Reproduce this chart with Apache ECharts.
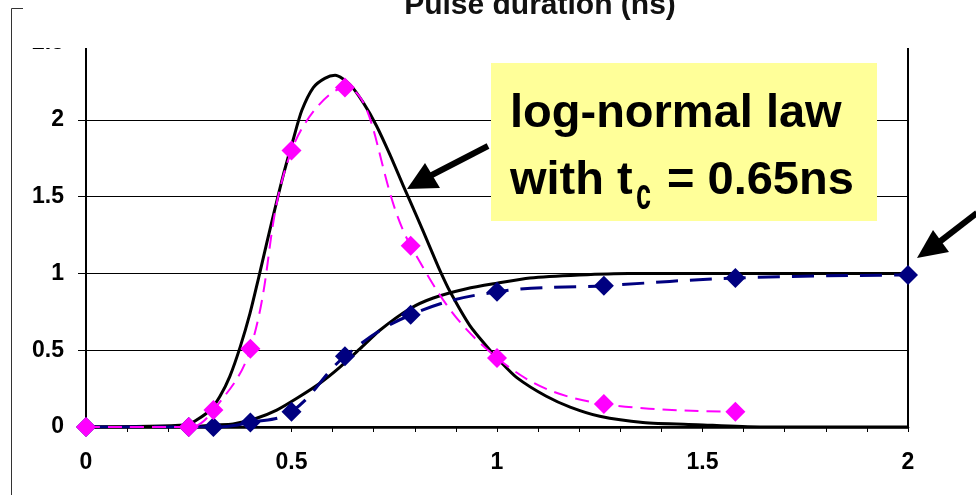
<!DOCTYPE html>
<html>
<head>
<meta charset="utf-8">
<script src="https://cdn.jsdelivr.net/npm/echarts@6/dist/echarts.min.js"></script>
<style>
	html,body{margin:0;padding:0;background:#fff;}
	#main{width:976px;height:495px;}
</style>
</head>
<body>
<div id="main"></div>
<script>
	// measured points (magenta diamonds)
	var pinkX=[0,0.25,0.31,0.4,0.5,0.63,0.79,1.0,1.26,1.58];
	var pinkY=[0,0,0.11,0.51,1.8,2.21,1.18,0.45,0.15,0.1];
	// cumulative points (navy diamonds)
	var navyX=[0,0.25,0.31,0.4,0.5,0.63,0.79,1.0,1.26,1.58,2.0];
	var navyY=[0,0,0,0.03,0.1,0.46,0.73,0.88,0.92,0.97,0.99];
	// log-normal fit, density (black)
	var pdfX=[0,0.245,0.269,0.302,0.326,0.35,0.375,0.399,0.419,0.44,0.456,0.48,0.504,0.525,0.553,0.581,0.606,0.642,0.675,0.707,0.74,0.772,0.805,0.837,0.861,0.886,0.934,0.983,1.007,1.049,1.12,1.178,1.25,1.355,1.487,1.64,2.0];
	var pdfY=[0,0.013,0.045,0.11,0.2,0.33,0.52,0.74,0.96,1.2,1.38,1.64,1.87,2.06,2.21,2.27,2.29,2.23,2.11,1.96,1.77,1.57,1.37,1.17,1.02,0.88,0.66,0.5,0.43,0.32,0.2,0.13,0.07,0.03,0.015,0,0];
	// log-normal fit, cumulative (black)
	var cdfX=[0,0.25,0.31,0.358,0.415,0.464,0.513,0.569,0.618,0.667,0.715,0.788,0.845,0.926,1.0,1.08,1.2,1.32,2.0];
	var cdfY=[0,0,0.013,0.02,0.057,0.11,0.187,0.285,0.39,0.51,0.63,0.77,0.84,0.9,0.936,0.97,0.99,1.0,1.0];
	var xTicks=[0,0.5,1,1.5,2];
	var yTicks=[0,0.5,1,1.5,2,2.5];

	function pairs(xs,ys){
		var out=[];
		for(var i=0;i<xs.length;i++){
			out.push([xs[i],ys[i]]);
		}
		return out;
	}

	var FONT='"Liberation Sans", Arial, sans-serif';
	var myChart=echarts.init(document.getElementById("main"));
	var option={
		animation:false,
		grid:{
			left:86,
			right:68,
			top:43,
			bottom:68,
			show:true,
			borderColor:'#000',
			borderWidth:2
		},
		xAxis:{
			type:'value',
			min:xTicks[0],
			max:xTicks[xTicks.length-1],
			interval:0.5,
			axisLine:{show:true,onZero:false,lineStyle:{color:'#000',width:2.5}},
			axisTick:{show:true,length:5,lineStyle:{color:'#000',width:1}},
			minorTick:{show:true,splitNumber:5,length:5,lineStyle:{color:'#000',width:1}},
			splitLine:{show:false},
			axisLabel:{
				margin:24,
				color:'#000',
				fontFamily:FONT,
				fontWeight:'bold',
				fontSize:23
			}
		},
		yAxis:{
			type:'value',
			min:yTicks[0],
			max:yTicks[yTicks.length-1],
			interval:0.5,
			axisLine:{show:true,lineStyle:{color:'#000',width:2}},
			axisTick:{show:true,length:8,lineStyle:{color:'#000',width:1}},
			splitLine:{show:true,lineStyle:{color:'#000',width:1}},
			axisLabel:{
				margin:22,
				color:'#000',
				fontFamily:FONT,
				fontWeight:'bold',
				fontSize:23
			}
		},
		series:[
			{
				name:'density fit',
				type:'line',
				data:pairs(pdfX,pdfY),
				showSymbol:false,
				smooth:0.25,
				lineStyle:{color:'#000',width:3},
				z:2
			},
			{
				name:'cumulative fit',
				type:'line',
				data:pairs(cdfX,cdfY),
				showSymbol:false,
				smooth:0.25,
				lineStyle:{color:'#000',width:3},
				z:2
			},
			{
				name:'cumulative',
				type:'line',
				data:pairs(navyX,navyY),
				symbol:'diamond',
				symbolSize:20,
				smooth:0.4,
				itemStyle:{color:'#000080'},
				lineStyle:{color:'#000080',width:3,type:[22,12]},
				z:3
			},
			{
				name:'density',
				type:'line',
				data:pairs(pinkX,pinkY),
				symbol:'diamond',
				symbolSize:20,
				smooth:0.4,
				itemStyle:{color:'#ff00ff'},
				lineStyle:{color:'#ff00ff',width:2,type:[14,8]},
				z:4
			}
		],
		graphic:[
			// outer frame, partly cropped
			{
				type:'polyline',
				z:90,
				shape:{points:[[23,8.5],[11.5,8.5],[11.5,495]]},
				style:{stroke:'#333',lineWidth:1,fill:null}
			},
			// the picture is cut off above the plot
			{
				type:'rect',
				z:100,
				shape:{x:23,y:0,width:953,height:48},
				style:{fill:'#fff'}
			},
			{
				type:'text',
				z:101,
				x:540,
				y:6,
				style:{
					text:'Pulse duration (ns)',
					font:'bold 30px '+FONT,
					fill:'#111',
					textAlign:'center',
					textVerticalAlign:'middle'
				}
			},
			{
				type:'rect',
				z:50,
				shape:{x:491,y:63,width:386,height:158},
				style:{fill:'#ffff99'}
			},
			{
				type:'text',
				z:51,
				x:510,
				y:114,
				style:{
					text:'log-normal law',
					font:'bold 47px '+FONT,
					fill:'#000',
					textAlign:'left',
					textVerticalAlign:'middle'
				}
			},
			{
				type:'text',
				z:51,
				x:510,
				y:181,
				style:{
					text:'with t',
					font:'bold 47px '+FONT,
					fill:'#000',
					textAlign:'left',
					textVerticalAlign:'middle'
				}
			},
			{
				type:'text',
				z:51,
				x:636,
				y:197,
				scaleX:0.6,
				style:{
					text:'c',
					font:'bold 45px '+FONT,
					fill:'#000',
					textAlign:'left',
					textVerticalAlign:'middle'
				}
			},
			{
				type:'text',
				z:51,
				x:667,
				y:181,
				style:{
					text:'= 0.65ns',
					font:'bold 47px '+FONT,
					fill:'#000',
					textAlign:'left',
					textVerticalAlign:'middle'
				}
			},
			// arrow to the density curve
			{
				type:'line',
				z:60,
				shape:{x1:488,y1:146,x2:428,y2:177},
				style:{stroke:'#000',lineWidth:6}
			},
			{
				type:'polygon',
				z:60,
				shape:{points:[[407,189],[425,163],[440,188]]},
				style:{fill:'#000'}
			},
			// arrow to the last cumulative point
			{
				type:'line',
				z:60,
				shape:{x1:977,y1:213,x2:938,y2:243},
				style:{stroke:'#000',lineWidth:6}
			},
			{
				type:'polygon',
				z:60,
				shape:{points:[[917,258],[933,230],[949,252]]},
				style:{fill:'#000'}
			}
		]
	};
	myChart.setOption(option);
</script>
</body>
</html>
